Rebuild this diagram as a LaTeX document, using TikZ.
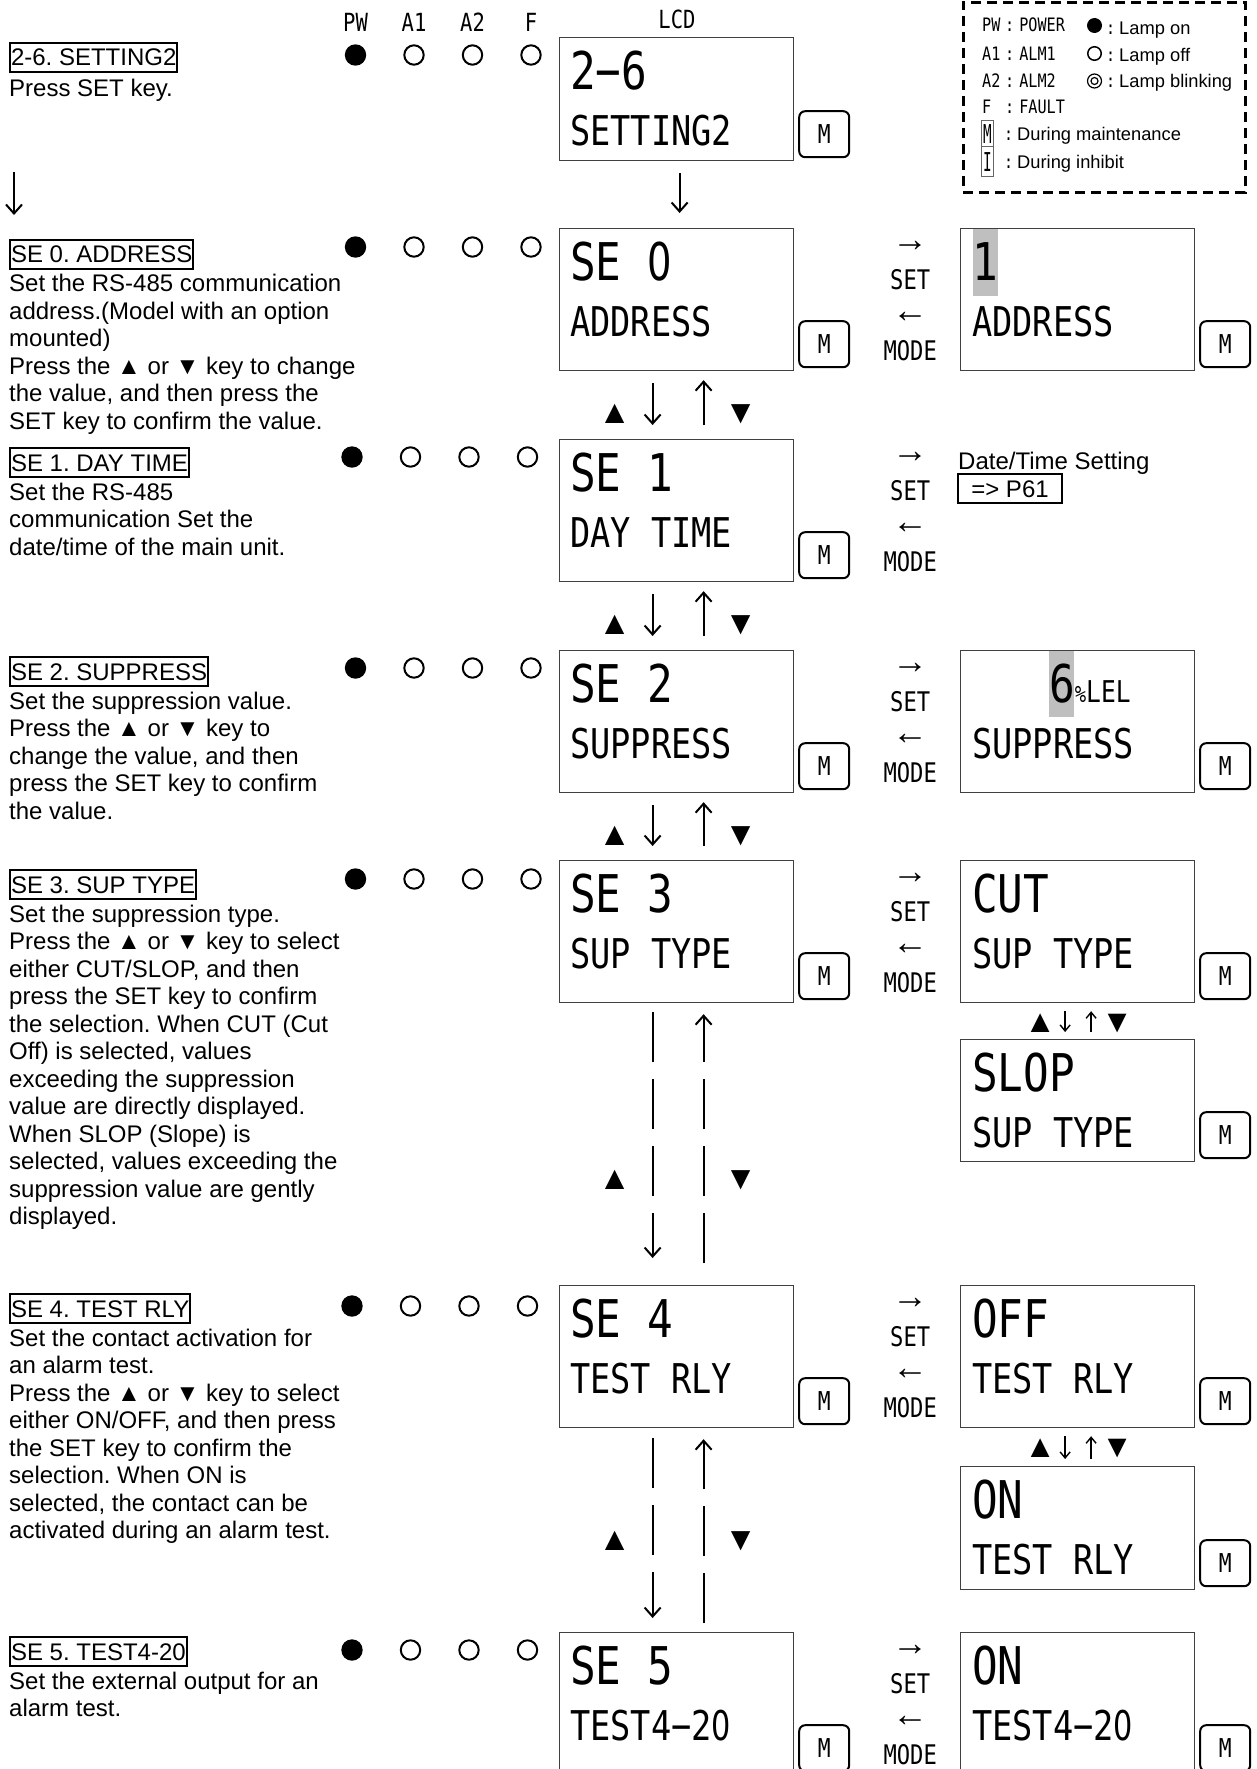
\documentclass[tikz,border=0pt]{standalone}
\usepackage{fontspec}
\setmainfont{Liberation Sans}
\newfontfamily\lcdfont[FakeStretch=0.82]{DejaVu Sans Mono}
\newfontfamily\lcdzero[FakeStretch=0.74]{DejaVu Sans}
\newfontfamily\slimfont[FakeStretch=0.55]{DejaVu Sans Mono}
\usetikzlibrary{arrows.meta}

\begin{document}
\frenchspacing
\begin{tikzpicture}[x=1pt,y=-1pt,
    lcd/.style={draw=black!75,line width=1.2pt,anchor=north west,minimum width=234pt,minimum height=#1,inner sep=0pt},
    mkey/.style={draw,line width=2pt,rounded corners=6pt,anchor=south west,minimum width=50pt,minimum height=46pt,inner sep=0pt,font=\lcdfont\fontsize{26}{26}\selectfont},
    row1/.style={anchor=base west,inner sep=0pt,font=\lcdfont\fontsize{52}{52}\selectfont},
    row2/.style={anchor=base west,inner sep=0pt,font=\lcdfont\fontsize{41}{41}\selectfont},
    keylbl/.style={inner sep=0pt,font=\lcdfont\fontsize{27}{27}\selectfont},
    glyph/.style={inner sep=0pt,font=\fontsize{#1}{#1}\selectfont},
    title/.style={draw,line width=2pt,anchor=base west,inner xsep=1pt,inner ysep=1.5pt,text height=21.5pt,text depth=4.5pt,font=\fontsize{24}{27.5}\selectfont},
    desc/.style={anchor=north west,align=left,inner sep=0pt,font=\fontsize{24}{27.5}\selectfont,execute at begin node=\strut},
    lampon/.style={circle,fill,minimum size=21.4pt,inner sep=0pt},
    lampoff/.style={circle,draw,line width=2pt,minimum size=19.4pt,inner sep=0pt},
    legkey/.style={anchor=base west,inner sep=0pt,font=\lcdfont\fontsize{18.5}{18.5}\selectfont},
    legtxt/.style={anchor=base west,inner sep=0pt,font=\fontsize{18.3}{18.3}\selectfont},
    flow/.style={line width=2pt,-{Straight Barb[length=9pt,width=16pt]}},
    flowsm/.style={line width=1.4pt,-{Straight Barb[length=6pt,width=10pt]}},
    hilite/.style={fill=black!25}
  ]
  \useasboundingbox (0,0) rectangle (1257,1769);

  % lamp header
  \foreach \x/\lbl in {355.5/PW,414/A1,472.5/A2,531/F}
    \node[keylbl,font=\lcdfont\fontsize{25}{25}\selectfont] (hd\lbl) at (\x,22) {\lbl};
  \node[keylbl,font=\lcdfont\fontsize{25}{25}\selectfont] (hdlcd) at (677,19) {LCD};

  \foreach \r/\y/\dx in {l26/55/0,se0/247/0,se1/457/-3.5,se2/668/0,se3/879/0,se4/1306/-3.5,se5/1650/-3.5}{
    \node[lampon] (\r-pw) at ({355.5+\dx},\y) {};
    \node[lampoff] (\r-a1) at ({414+\dx},\y) {};
    \node[lampoff] (\r-a2) at ({472.5+\dx},\y) {};
    \node[lampoff] (\r-f) at ({531+\dx},\y) {};
  }

  % left column texts
  \node[title] (t26) at (9,66) {2-6. SETTING2};
  \node[desc] (d26) at ([yshift=-11.5pt]t26.base west) {Press SET key.};
  \node[title] (t0) at (9,262.5) {SE 0. ADDRESS};
  \node[desc] (d0) at ([yshift=-11.5pt]t0.base west) {Set the RS-485 communication\\address.(Model with an option\\mounted)\\Press the ▲ or ▼ key to change\\the value, and then press the\\SET key to confirm the value.};
  \node[title] (t1) at (9,471) {SE 1. DAY TIME};
  \node[desc] (d1) at ([yshift=-11.5pt]t1.base west) {Set the RS-485\\communication Set the\\date/time of the main unit.};
  \node[title] (t2) at (9,680) {SE 2. SUPPRESS};
  \node[desc] (d2) at ([yshift=-11.5pt]t2.base west) {Set the suppression value.\\Press the ▲ or ▼ key to\\change the value, and then\\press the SET key to confirm\\the value.};
  \node[title] (t3) at (9,893) {SE 3. SUP TYPE};
  \node[desc] (d3) at ([yshift=-11.5pt]t3.base west) {Set the suppression type.\\Press the ▲ or ▼ key to select\\either CUT/SLOP, and then\\press the SET key to confirm\\the selection. When CUT (Cut\\Off) is selected, values\\exceeding the suppression\\value are directly displayed.\\When SLOP (Slope) is\\selected, values exceeding the\\suppression value are gently\\displayed.};
  \node[title] (t4) at (9,1317) {SE 4. TEST RLY};
  \node[desc] (d4) at ([yshift=-11.5pt]t4.base west) {Set the contact activation for\\an alarm test.\\Press the ▲ or ▼ key to select\\either ON/OFF, and then press\\the SET key to confirm the\\selection. When ON is\\selected, the contact can be\\activated during an alarm test.};
  \node[title] (t5) at (9,1660) {SE 5. TEST4-20};
  \node[desc] (d5) at ([yshift=-11.5pt]t5.base west) {Set the external output for an\\alarm test.};

  % displays
  \foreach \nm/\tp/\hh/\la/\lb in {l26/37/123pt/2−6/SETTING2,se0/228/142pt/SE {\lcdzero 0}/ADDRESS,se1/439/142pt/SE 1/DAY TIME,se2/650/142pt/SE 2/SUPPRESS,se3/860/142pt/SE 3/SUP TYPE,se4/1285/142pt/SE 4/TEST RLY,se5/1632/142pt/SE 5/TEST4−2{\lcdzero 0}}{
    \node[lcd=\hh] (\nm) at (559,\tp) {};
    \node[row1] (\nm-l1) at ([xshift=11pt,yshift=-52pt]\nm.north west) {\la};
    \node[row2] (\nm-l2) at ([xshift=11pt,yshift=-108.5pt]\nm.north west) {\lb};
    \node[mkey] (\nm-m) at ([xshift=4pt,yshift=3pt]\nm.south east) {M};
  }
  \foreach \nm/\tp/\hh/\la/\lb in {se0r/228/142pt//ADDRESS,se2r/650/142pt//SUPPRESS,cut/860/142pt/CUT/SUP TYPE,slop/1039/122pt/SLOP/SUP TYPE,off/1285/142pt/OFF/TEST RLY,on/1466/123pt/ON/TEST RLY,se5r/1632/142pt/ON/TEST4−2{\lcdzero 0}}{
    \node[lcd=\hh] (\nm) at (960,\tp) {};
    \node[row1] (\nm-l1) at ([xshift=12pt,yshift=-52pt]\nm.north west) {\la};
    \node[row2] (\nm-l2) at ([xshift=12pt,yshift=-108.5pt]\nm.north west) {\lb};
    \node[mkey] (\nm-m) at ([xshift=4pt,yshift=3pt]\nm.south east) {M};
  }
  \fill[hilite] ([xshift=13pt,yshift=-1pt]se0r.north west) rectangle ([xshift=38pt,yshift=-68pt]se0r.north west);
  \node[row1] (se0r-v) at ([xshift=12pt,yshift=-52pt]se0r.north west) {1};
  \fill[hilite] ([xshift=89pt,yshift=-1pt]se2r.north west) rectangle ([xshift=114pt,yshift=-67pt]se2r.north west);
  \node[row1] (se2r-v) at ([xshift=89pt,yshift=-52pt]se2r.north west) {6{\fontsize{23}{23}\selectfont\%}{\fontsize{30}{30}\selectfont LEL}};

  \foreach \nm in {se0,se1,se2,se3,se4,se5}{
    \node[glyph=36] (\nm-to) at ([xshift=116pt,yshift=-18pt]\nm.north east) {→};
    \node[keylbl] (\nm-set) at ([xshift=116pt,yshift=-52pt]\nm.north east) {SET};
    \node[glyph=36] (\nm-back) at ([xshift=116pt,yshift=-89pt]\nm.north east) {←};
    \node[keylbl] (\nm-mode) at ([xshift=116pt,yshift=-123pt]\nm.north east) {MODE};
  }
  \node[anchor=base west,inner sep=0pt,font=\fontsize{24}{24}\selectfont] (dts) at (958,469) {Date/Time Setting};
  \node[title,anchor=north west,minimum width=104pt] (p61) at (957,473) {=> P61};

  % flow between displays
  \coordinate (lstart) at (14,172);
  \coordinate (lend) at (14,215);
  \draw[flow] (lstart) -- (lend);
  \draw[flow] ([xshift=3pt,yshift=-12pt]l26.south) -- ([xshift=3pt,yshift=15pt]se0.north);
  \foreach \u/\d in {se0/se1,se1/se2,se2/se3}{
    \draw[flow] ([xshift=-24pt,yshift=-12pt]\u.south) -- ([xshift=-24pt,yshift=14pt]\d.north);
    \draw[flow] ([xshift=27pt,yshift=14pt]\d.north) -- ([xshift=27pt,yshift=-9pt]\u.south);
    \node[glyph=33] (\u-up) at ([xshift=-62pt,yshift=-43pt]\u.south) {▲};
    \node[glyph=33] (\u-dn) at ([xshift=64pt,yshift=-43pt]\u.south) {▼};
  }
  \foreach \u/\d/\a/\b/\c/\m in {se3/se4/9/27/22/177,se4/se5/10/14/9/113}{
    \draw[flow,dash pattern=on 50pt off 17pt] ([xshift=-24pt,yshift=-\a pt]\u.south) -- ([xshift=-24pt,yshift=\b pt]\d.north);
    \draw[flow,dash pattern=on 50pt off 17pt] ([xshift=27pt,yshift=\c pt]\d.north) -- ([xshift=27pt,yshift=-11pt]\u.south);
    \node[glyph=33] (\u-up) at ([xshift=-62pt,yshift=-\m pt]\u.south) {▲};
    \node[glyph=33] (\u-dn) at ([xshift=64pt,yshift=-\m pt]\u.south) {▼};
  }
  \foreach \u/\d in {cut/slop,off/on}{
    \draw[flowsm] ([xshift=-12.5pt,yshift=-8pt]\u.south) -- ([xshift=-12.5pt,yshift=7pt]\d.north);
    \draw[flowsm] ([xshift=13.5pt,yshift=7pt]\d.north) -- ([xshift=13.5pt,yshift=-8pt]\u.south);
    \node[glyph=32] (\u-up) at ([xshift=-37.5pt,yshift=-20pt]\u.south) {▲};
    \node[glyph=32] (\u-dn) at ([xshift=39.5pt,yshift=-20pt]\u.south) {▼};
  }

  % legend
  \node[draw,line width=2.7pt,dash pattern=on 10pt off 6pt,minimum width=282pt,minimum height=190pt,anchor=north west,inner sep=0pt] (legend) at (962,1) {};
  \foreach \y/\k/\v in {32/PW/POWER,60.5/A1/ALM1,87/A2/ALM2,113/F/FAULT}{
    \node[legkey] (lg\k) at (982,\y) {\k};
    \node[legkey] (lg\v) at (1005,\y) {:\hspace{5pt}\v};
  }
  \node[circle,fill,minimum size=15pt,inner sep=0pt] (symon) at (1094.5,25.5) {};
  \node[circle,draw,line width=1.5pt,minimum size=13.5pt,inner sep=0pt] (symoff) at (1094.5,53.5) {};
  \node[circle,draw,line width=1.2pt,minimum size=14pt,inner sep=0pt] (symblink) at (1094.5,81) {};
  \node[circle,draw,line width=1.2pt,minimum size=7pt,inner sep=0pt] (symblinkin) at (1094.5,81) {};
  \node[legtxt] (lgon) at (1106,35) {{\lcdfont :}\hspace{4pt}Lamp on};
  \node[legtxt] (lgoff) at (1106,62) {{\lcdfont :}\hspace{4pt}Lamp off};
  \node[legtxt] (lgblink) at (1106,88) {{\lcdfont :}\hspace{4pt}Lamp blinking};
  \node[draw=black!60,line width=0.8pt,minimum width=11.5pt,minimum height=26pt,inner sep=0pt,font=\slimfont\fontsize{26}{26}\selectfont] (legm) at (987.5,133.7) {M};
  \node[draw=black!60,line width=0.8pt,minimum width=11.5pt,minimum height=30pt,inner sep=0pt,font=\slimfont\fontsize{26}{26}\selectfont] (legi) at (987.5,161.7) {I};
  \node[legtxt] (lgmaint) at (1004,140) {{\lcdfont :}\hspace{4pt}During maintenance};
  \node[legtxt] (lginh) at (1004,168) {{\lcdfont :}\hspace{4pt}During inhibit};
\end{tikzpicture}
\end{document}
